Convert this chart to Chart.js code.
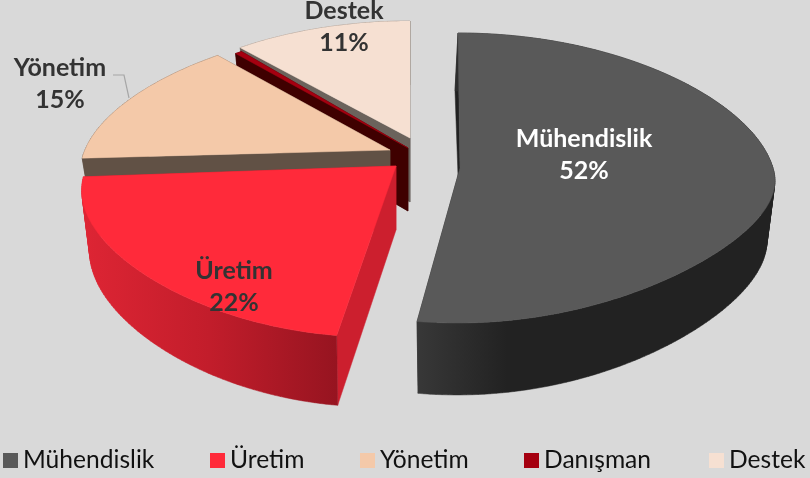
<!DOCTYPE html>
<html><head><meta charset="utf-8">
<style>html,body{margin:0;padding:0;background:#d9d9d9;overflow:hidden}canvas{display:block}</style>
<script src="https://cdn.jsdelivr.net/npm/chart.js@4/dist/chart.umd.min.js"></script>
</head><body><canvas id="c" width="810" height="478"></canvas>
<script>
const categories = ["Mühendislik","Üretim","Yönetim","Danışman","Destek"];
const shares = [52,22,15,0.4,11];
const topColors = ["#595959","#ff2a3a","#f4c9a9","#a50010","#f6e0d2"];

// Appearance of the tilted, exploded pie (one entry per slice)
const look = [
 {tx:460,ty:168,rx:313,back:135,front:155,v:3,vb:-2,lowVb:-5,e:42,k:.12,drop:64,ringDrop:58,lowRx:.975,lowFront:1.09,cut:"#222222",wall:["#383838","#222222","#222222"]},
 {tx:396,ty:166,rx:309,back:130,front:171,v:20,vb:16,lowVb:16,e:38,k:.12,drop:64,ringDrop:58,lowRx:.975,lowFront:1.07,cut:"#cc1f2e",wall:["#de2534","#c21d2b","#961420"]},
 {tx:390,ty:150,rx:305,back:125,front:100,v:10,vb:14,lowVb:14,e:0,k:.12,drop:64,ringDrop:64,lowRx:.965,lowFront:1.04,cut:"#615145",wall:["#615145","#615145","#615145"]},
 {tx:408,ty:148,rx:305,back:125,front:100,v:10,vb:14,lowVb:14,e:0,k:.12,drop:63,ringDrop:63,lowRx:.965,lowFront:1.04,cut:"#3f0000",wall:["#3f0000","#3f0000","#3f0000"]},
 {tx:410,ty:138,rx:292,back:117,front:100,v:0,vb:0,lowVb:0,e:0,k:.12,drop:64,ringDrop:64,lowRx:.965,lowFront:1.04,cut:"#6b635c",wall:["#6b635c","#6b635c","#6b635c"]}
];
const labelSpots = [
 {x:584,y:139,color:"#ffffff"},{x:234,y:271,color:"#333333"},{x:60,y:68,color:"#333333"},null,{x:344,y:11,color:"#333333"}
];
const legendX = [3,210,360,524,709];
const leader = [[113,75],[124,75],[129,98]];
const LINE_GAP = 32, BOLD = 'bold 25px Lato', PLAIN = '24.6px Lato';

function ringPoint(s,theta,lower){
  const c=Math.cos(theta), sn=Math.sin(theta);
  const rx=lower? s.rx*s.lowRx : s.rx;
  const dy = c>0 ? -s.back*c : -(lower? s.front*s.lowFront : s.front)*c - s.e*sn*sn*(-c);
  const v = c<0 ? s.v : (lower? s.lowVb : s.vb);
  return [s.tx + rx*sn/(1+s.k*c) + v*c, s.ty + (lower? s.ringDrop:0) + dy];
}
function arcPts(s,a,b,lower){
  const n=Math.max(2,Math.ceil(Math.abs(b-a)/(Math.PI/180))), pts=[];
  for(let i=0;i<=n;i++) pts.push(ringPoint(s,a+(b-a)*i/n,lower));
  return pts;
}
function addPoly(ctx,pts){
  let area=0;
  pts.forEach((p,i)=>{const q=pts[(i+1)%pts.length]; area+=p[0]*q[1]-q[0]*p[1];});
  const ordered = area<0 ? pts.slice().reverse() : pts;
  ordered.forEach((p,i)=> i? ctx.lineTo(p[0],p[1]) : ctx.moveTo(p[0],p[1]));
  ctx.closePath();
}
function paint(ctx,fill){
  ctx.fillStyle=fill; ctx.strokeStyle=fill; ctx.lineWidth=.5;
  ctx.fill('nonzero'); ctx.stroke();
}
function fillPoly(ctx,pts,fill){
  ctx.beginPath(); addPoly(ctx,pts); paint(ctx,fill);
}
const tiltedPie = {
  id:'tiltedPie',
  beforeDatasetDraw(chart){
    const ctx=chart.ctx, arcs=chart.getDatasetMeta(0).data;
    ctx.save();
    [4,3,2,1,0].forEach(i=>{
      const s=look[i], a=arcs[i].startAngle+Math.PI/2, b=arcs[i].endAngle+Math.PI/2;
      const tipT=[s.tx,s.ty], tipB=[s.tx,s.ty+s.drop];
      // radial cut faces
      fillPoly(ctx,[tipT,ringPoint(s,b,false),ringPoint(s,b,true),tipB],s.cut);
      fillPoly(ctx,[tipT,ringPoint(s,a,false),ringPoint(s,a,true),tipB],s.cut);
      // outer wall, swept between the upper and lower rims as one path
      const up=arcPts(s,a,b,false), low=arcPts(s,a,b,true);
      const xs=up.concat(low).map(p=>p[0]);
      const g=ctx.createLinearGradient(Math.max(...xs),0,Math.min(...xs),0);
      const w=s.wall;
      if(i===0){g.addColorStop(1,w[0]);g.addColorStop(.75,w[1]);g.addColorStop(0,w[2]);}
      else{g.addColorStop(1,w[0]);g.addColorStop(.5,w[1]);g.addColorStop(0,w[2]);}
      ctx.beginPath();
      for(let j=0;j<up.length-1;j++) addPoly(ctx,[up[j],up[j+1],low[j+1],low[j]]);
      paint(ctx,g);
      // top face
      fillPoly(ctx,[tipT].concat(up),topColors[i]);
    });
    ctx.restore();
    return false;
  },
  afterDraw(chart){
    const ctx=chart.ctx, vals=chart.data.datasets[0].data, total=vals.reduce((p,q)=>p+q,0);
    ctx.save();
    // leader line
    ctx.beginPath();
    leader.forEach((p,i)=> i? ctx.lineTo(p[0],p[1]) : ctx.moveTo(p[0],p[1]));
    ctx.strokeStyle="#a6a6a6"; ctx.lineWidth=1.2; ctx.stroke();
    // data labels
    ctx.textAlign='center'; ctx.textBaseline='middle'; ctx.font=BOLD;
    labelSpots.forEach((l,i)=>{
      if(!l) return;
      ctx.fillStyle=l.color;
      ctx.fillText(chart.data.labels[i],l.x,l.y);
      ctx.fillText(Math.round(vals[i]/total*100)+'%',l.x,l.y+LINE_GAP);
    });
    // legend
    ctx.textAlign='left'; ctx.font=PLAIN;
    chart.data.labels.forEach((t,i)=>{
      ctx.fillStyle=topColors[i];
      ctx.fillRect(legendX[i],453,15,15);
      ctx.fillStyle="#111111";
      ctx.fillText(t,legendX[i]+20,460);
    });
    ctx.restore();
  }
};
new Chart(document.getElementById('c'),{
  type:'pie',
  data:{labels:categories,datasets:[{data:shares,backgroundColor:topColors,borderWidth:0}]},
  options:{responsive:false,animation:false,
    plugins:{legend:{display:false},tooltip:{enabled:false}}},
  plugins:[tiltedPie]
});
</script></body></html>
